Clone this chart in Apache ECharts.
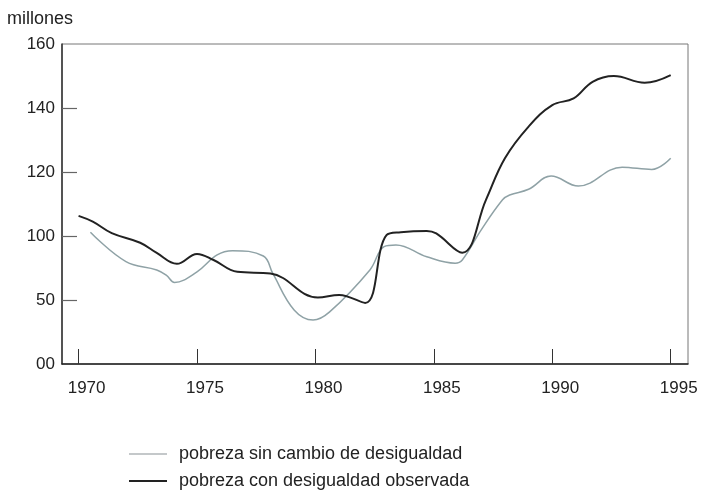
<!DOCTYPE html>
<html>
<head>
<meta charset="utf-8">
<script src="https://cdn.jsdelivr.net/npm/echarts@6/dist/echarts.min.js"></script>
<style>
  html, body { margin: 0; padding: 0; background: #fff; }
  #chart { width: 702px; height: 490px; }
</style>
</head>
<body>
<div id="chart"></div>
<script>
// years shown on the x axis
var xTicks = [1970, 1975, 1980, 1985, 1990, 1995];
// y tick labels, bottom to top (the axis is drawn evenly spaced)
var yTickLabels = ['00', '50', '100', '120', '140', '160'];
var seriesNames = ['pobreza sin cambio de desigualdad', 'pobreza con desigualdad observada'];

// pobreza con desigualdad observada
var obsYears = [1970.0, 1970.6, 1971.4, 1972.6, 1973.3, 1974.15, 1975.0, 1975.7, 1976.7, 1978.1, 1980.1, 1981.0, 1982.1, 1983.0, 1983.6, 1984.7, 1985.1, 1986.2, 1987.2, 1988.0, 1989.0, 1990.0, 1990.9, 1991.7, 1992.6, 1993.9, 1995.0];
var obsValues = [106.3, 104.5, 100.9, 97.9, 94.7, 91.3, 94.4, 92.5, 88.8, 88.3, 80.8, 81.6, 79.1, 100.3, 101.2, 101.6, 100.8, 94.8, 111.3, 124.3, 134.2, 140.9, 143.0, 148.2, 150.0, 147.9, 150.3];

// pobreza sin cambio de desigualdad
var simYears = [1970.5, 1972.0, 1973.3, 1973.7, 1974.05, 1975.0, 1975.85, 1976.5, 1977.8, 1978.2, 1979.1, 1979.9, 1980.6, 1982.3, 1982.9, 1983.4, 1984.7, 1985.9, 1986.2, 1987.0, 1987.9, 1988.2, 1989.0, 1989.95, 1991.1, 1992.95, 1994.2, 1995.0];
var simValues = [101.2, 92.0, 89.4, 87.8, 85.5, 88.8, 94.1, 95.4, 93.75, 88.3, 76.9, 73.75, 76.3, 89.4, 96.7, 97.2, 93.5, 91.5, 92.5, 101.9, 111.3, 112.8, 114.6, 118.75, 115.6, 121.5, 120.8, 124.3];

function pairs(xs, ys) {
  return xs.map(function (x, i) { return [x, ys[i]]; });
}

var chart = echarts.init(document.getElementById('chart'));
var font = 'Liberation Sans, Arial, sans-serif';
var textStyle = { color: '#222', fontSize: 17, fontFamily: font };
var lineIcon = 'path://M0,0 L38,0 L38,2 L0,2 Z';

function legendAt(top, name) {
  return {
    left: 129,
    top: top,
    padding: 0,
    itemWidth: 38,
    itemHeight: 2,
    icon: lineIcon,
    textStyle: { color: '#222', fontSize: 18, fontFamily: font, padding: [0, 0, 0, 7] },
    data: [name]
  };
}

var option = {
  animation: false,
  title: {
    text: 'millones',
    left: 2,
    top: 5,
    textStyle: { color: '#222', fontSize: 18, fontWeight: 'normal', fontFamily: font }
  },
  grid: {
    left: 62, right: 14, top: 44, bottom: 126,
    show: true, borderColor: '#777', borderWidth: 1
  },
  legend: [legendAt(445, seriesNames[0]), legendAt(472, seriesNames[1])],
  xAxis: {
    type: 'value',
    min: 1969.3,
    max: 1995.73,
    axisLine: { lineStyle: { color: '#222', width: 1.5 } },
    axisTick: { inside: true, length: 15, customValues: xTicks, lineStyle: { color: '#333' } },
    axisLabel: {
      customValues: xTicks, margin: 16, padding: [0, 0, 0, 16], textStyle: textStyle,
      formatter: function (v) { return String(v); }
    },
    splitLine: { show: false }
  },
  yAxis: {
    type: 'value',
    min: 60,
    max: 160,
    interval: 20,
    axisLine: { show: true, lineStyle: { color: '#333', width: 1.5 } },
    axisTick: { show: true, inside: true, length: 15, customValues: [80, 100, 120, 140], lineStyle: { color: '#666', width: 1.2 } },
    axisLabel: {
      margin: 7,
      textStyle: textStyle,
      formatter: function (v) { return yTickLabels[Math.round((v - 60) / 20)]; }
    },
    splitLine: { show: false }
  },
  series: [{
    name: seriesNames[0],
    type: 'line',
    smooth: 0.4,
    symbol: 'none',
    color: '#c4c8ca',
    lineStyle: { color: '#8fa2a6', width: 1.5 },
    data: pairs(simYears, simValues)
  }, {
    name: seriesNames[1],
    type: 'line',
    smooth: 0.4,
    symbol: 'none',
    color: '#222',
    lineStyle: { color: '#222', width: 2 },
    data: pairs(obsYears, obsValues)
  }]
};
chart.setOption(option);
</script>
</body>
</html>
